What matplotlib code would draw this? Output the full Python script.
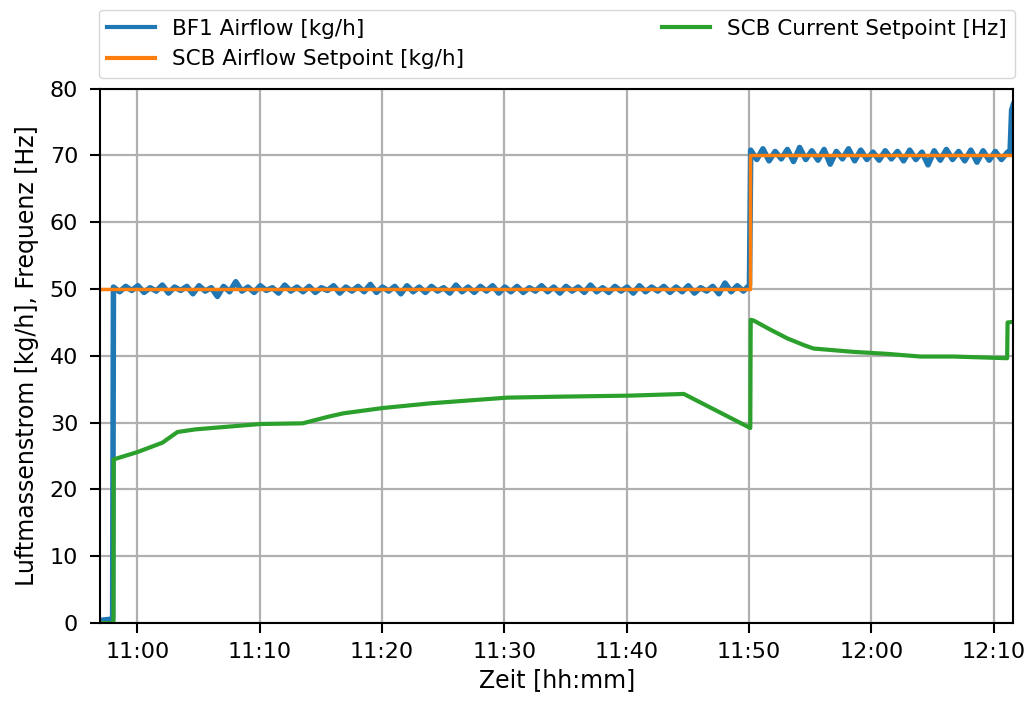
import matplotlib
matplotlib.use("Agg")
import matplotlib.pyplot as plt
import matplotlib.dates as mdates
import numpy as np
import pandas as pd

day = "2020-01-01 "

# BF1 airflow (30 s samples)
blue_pre_t = ["10:56:58", "10:57:58"]
blue_pre_v = [0.4, 0.6]
blue1 = [50.3, 49.6, 50.4, 49.8, 50.5, 49.5, 50.2, 49.7, 50.6, 49.4,
         50.3, 49.8, 50.4, 49.3, 50.5, 49.7, 50.2, 48.9, 50.4, 49.6,
         51.1, 49.7, 50.3, 49.5, 50.5, 49.8, 50.2, 49.4, 50.6, 49.7,
         50.3, 49.6, 50.4, 49.5, 50.2, 49.8, 50.5, 49.4, 50.3, 49.7,
         50.4, 49.6, 50.7, 49.5, 50.3, 49.7, 50.4, 49.3, 50.5, 49.6,
         50.3, 49.5, 50.4, 49.7, 50.2, 49.4, 50.6, 49.6, 50.3, 49.5,
         50.4, 49.7, 50.5, 49.4, 50.3, 49.6, 50.4, 49.5, 50.2, 49.7,
         50.5, 49.6, 50.3, 49.4, 50.4, 49.7, 50.3, 49.5, 50.6, 49.6,
         50.2, 49.5, 50.4, 49.7, 50.3, 49.4, 50.5, 49.6, 50.3, 49.7,
         50.4, 49.5, 50.3, 49.6, 50.5, 49.4, 50.2, 49.7, 50.4, 49.3,
         50.9, 49.6, 50.5, 49.7, 50.6]
blue2 = [70.8, 69.4, 71.0, 69.2, 70.6, 69.5, 70.9, 69.1, 71.2, 69.4,
         70.7, 69.3, 70.9, 68.7, 70.6, 69.5, 71.0, 69.2, 70.8, 69.4,
         70.5, 69.3, 70.7, 69.5, 70.6, 69.2, 70.8, 69.4, 70.5, 68.6,
         70.7, 69.3, 70.9, 69.4, 70.6, 69.2, 70.8, 69.0, 70.7, 69.3,
         70.6, 69.4, 70.5]
blue_end_t = ["12:11:20", "12:11:28", "12:11:36"]
blue_end_v = [70.2, 76.8, 77.6]

# SCB airflow setpoint
orange_t = ["10:56:58", "11:50:06", "11:50:06", "12:11:36"]
orange_v = [50, 50, 70, 70]

# SCB current setpoint
green_t = ["10:56:58", "10:58:02", "10:58:03", "11:00:00", "11:02:02", "11:03:16",
           "11:04:45", "11:10:04", "11:13:30", "11:15:37", "11:16:50", "11:20:06",
           "11:23:58", "11:30:15", "11:34:48", "11:40:18", "11:44:40", "11:50:06",
           "11:50:08", "11:50:22", "11:51:40", "11:53:09", "11:54:30", "11:55:16",
           "11:58:32", "12:01:18", "12:04:00", "12:06:42", "12:11:06", "12:11:08",
           "12:11:36"]
green_v = [0.0, 0.0, 24.5, 25.6, 27.0, 28.6,
           29.0, 29.8, 29.9, 30.9, 31.4, 32.2,
           32.9, 33.75, 33.9, 34.05, 34.3, 29.2,
           45.4, 45.3, 44.0, 42.6, 41.6, 41.1,
           40.6, 40.3, 39.9, 39.9, 39.65, 45.0,
           45.1]


def t(lst):
    return pd.to_datetime([day + s for s in lst])


blue_t = (list(t(blue_pre_t))
          + list(pd.date_range(day + "10:58:02", periods=len(blue1), freq="30s"))
          + list(pd.date_range(day + "11:50:08", periods=len(blue2), freq="30s"))
          + list(t(blue_end_t)))
blue_v = blue_pre_v + blue1 + blue2 + blue_end_v

fig, ax = plt.subplots(figsize=(10.35, 7.04), dpi=100)
fig.subplots_adjust(left=0.097, right=0.979, top=0.874, bottom=0.115)

ax.plot(blue_t, blue_v, color="#1f77b4", lw=4, label="BF1 Airflow [kg/h]")
ax.plot(t(orange_t), orange_v, color="#ff7f0e", lw=2.5, label="SCB Airflow Setpoint [kg/h]")
ax.plot(t(green_t), green_v, color="#2ca02c", lw=3, label="SCB Current Setpoint [Hz]")

ax.set_xlim(pd.Timestamp(day + "10:56:58"), pd.Timestamp(day + "12:11:36"))
ax.set_ylim(0, 80)
ax.set_yticks(np.arange(0, 81, 10))
ax.xaxis.set_major_locator(mdates.MinuteLocator(byminute=[0, 10, 20, 30, 40, 50]))
ax.xaxis.set_major_formatter(mdates.DateFormatter("%H:%M"))
ax.grid(True, color="#b0b0b0", lw=1.6)
ax.tick_params(labelsize=16, length=7, width=1.5)
ax.tick_params(axis="x", pad=7)
ax.tick_params(axis="y", pad=9)
for s in ax.spines.values():
    s.set_linewidth(1.5)
ax.set_xlabel("Zeit [hh:mm]", fontsize=17)
ax.set_ylabel("Luftmassenstrom [kg/h], Frequenz [Hz]", fontsize=17, labelpad=8)

leg = ax.legend(bbox_to_anchor=(-0.002, 1.02, 1.004, 0.15), loc="lower left", mode="expand",
                ncol=2, fontsize=15.5, borderaxespad=0, handlelength=2.2)
for h in leg.get_lines():
    h.set_linewidth(3)

fig.savefig("out.png")
